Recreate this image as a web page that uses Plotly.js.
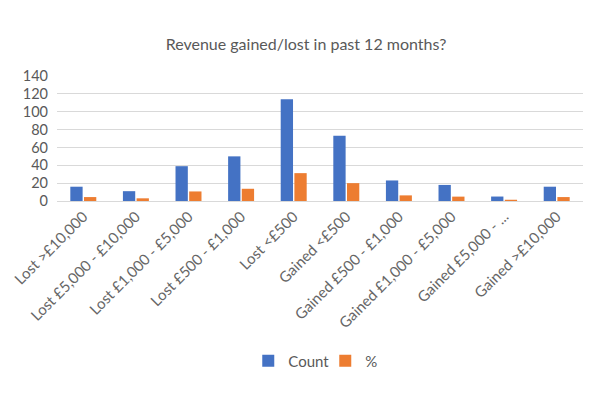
<!DOCTYPE html>
<html>
<head>
<meta charset="utf-8">
<script src="https://cdn.plot.ly/plotly-3.0.1.min.js"></script>
<style>html,body{margin:0;padding:0;background:#fff;}#chart{width:600px;height:400px;}</style>
</head>
<body>
<div id="chart"></div>
<script>
const categories = ["Lost >£10,000", "Lost £5,000 - £10,000", "Lost £1,000 - £5,000", "Lost £500 - £1,000", "Lost <£500", "Gained <£500", "Gained £500 - £1,000", "Gained £1,000 - £5,000", "Gained £5,000 - ...", "Gained >£10,000"];
const countValues = [16, 11, 39, 50, 114, 73, 23, 18, 5, 16];
const pctValues = [4.4, 3.0, 10.7, 13.7, 31.2, 20.0, 6.3, 4.9, 1.4, 4.4];
const yTicks = [0, 20, 40, 60, 80, 100, 120, 140];

const font = "Lato, 'Open Sans', sans-serif";
const data = [
  {type: "bar", name: "Count", x: categories, y: countValues, marker: {color: "#4472C4"}, hoverinfo: "none"},
  {type: "bar", name: "%", x: categories, y: pctValues, marker: {color: "#ED7D31"}, hoverinfo: "none"}
];
const layout = {
  width: 600, height: 400,
  margin: {l: 57, r: 17, t: 76, b: 199},
  paper_bgcolor: "#fff", plot_bgcolor: "#fff",
  font: {family: font, color: "#595959"},
  title: {text: "Revenue gained/lost in past 12 months?", font: {size: 16, color: "#595959", family: font}, x: 0.51, xanchor: "center", y: 0.888, yanchor: "middle"},
  barmode: "group", bargap: 0.48, bargroupgap: 0.1,
  xaxis: {type: "category", tickangle: -45, tickfont: {size: 15, color: "#666666"}, showgrid: false, showline: true, linecolor: "#d9d9d9", ticks: "", automargin: false},
  yaxis: {range: [0, 140], tickvals: yTicks, ticktext: yTicks.map(String), tickfont: {size: 14.5, color: "#595959"}, showgrid: true, gridcolor: "#d9d9d9", gridwidth: 1, zeroline: false, showline: false, ticks: "", ticklabelstandoff: 8, automargin: false},
  showlegend: true,
  legend: {orientation: "h", x: 0.51, xanchor: "center", y: -1.28, yanchor: "middle", font: {size: 15, color: "#595959"}, itemwidth: 30, entrywidth: 32, traceorder: "normal"}
};
Plotly.newPlot("chart", data, layout, {displayModeBar: false, staticPlot: true});
</script>
</body>
</html>
